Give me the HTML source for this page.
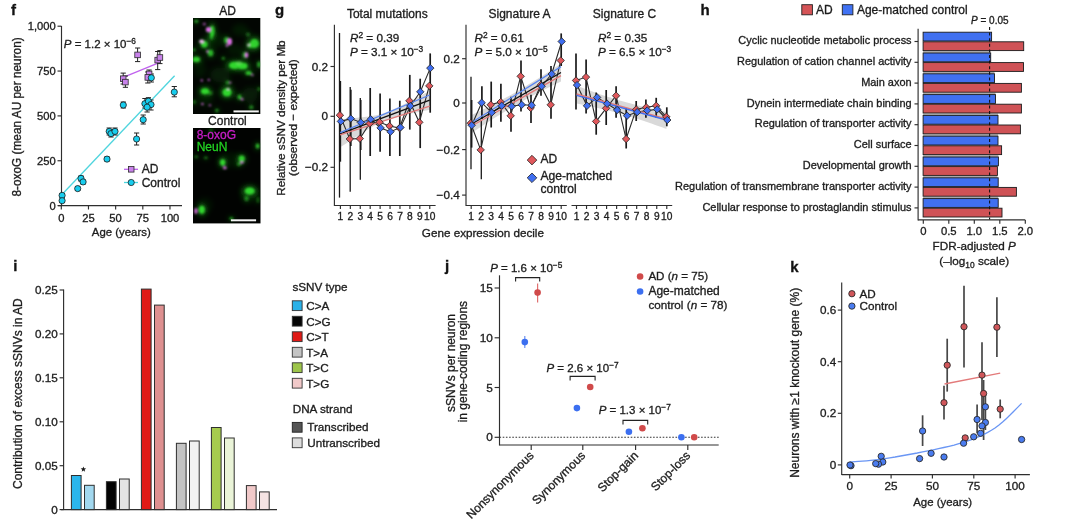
<!DOCTYPE html>
<html><head><meta charset="utf-8"><style>
html,body{margin:0;padding:0;background:#fff;width:1080px;height:521px;overflow:hidden}
svg{display:block;filter:blur(0.4px)}
text{stroke:currentColor;stroke-width:0.32px;paint-order:stroke}
</style></head><body>
<svg width="1080" height="521" viewBox="0 0 1080 521">
<rect width="1080" height="521" fill="#fff"/>
<g font-family='"Liberation Sans", sans-serif' fill="#1c1c1c" color="#1c1c1c">
<text x="11" y="14.6" font-size="15" font-weight="bold" fill="#111" color="#111" >f</text>
<line x1="61.5" y1="26" x2="61.5" y2="206.1" stroke="#2e2e2e" stroke-width="1.15" />
<line x1="58" y1="205.6" x2="182" y2="205.6" stroke="#2e2e2e" stroke-width="1.15" />
<line x1="57.5" y1="26.19999999999999" x2="61.5" y2="26.19999999999999" stroke="#2e2e2e" stroke-width="1.15" />
<text x="55.7" y="30.3" font-size="11.2" text-anchor="end" >1,000</text>
<line x1="57.5" y1="71.04999999999998" x2="61.5" y2="71.04999999999998" stroke="#2e2e2e" stroke-width="1.15" />
<text x="55.7" y="75.1" font-size="11.2" text-anchor="end" >750</text>
<line x1="57.5" y1="115.89999999999999" x2="61.5" y2="115.89999999999999" stroke="#2e2e2e" stroke-width="1.15" />
<text x="55.7" y="120.0" font-size="11.2" text-anchor="end" >500</text>
<line x1="57.5" y1="160.75" x2="61.5" y2="160.75" stroke="#2e2e2e" stroke-width="1.15" />
<text x="55.7" y="164.8" font-size="11.2" text-anchor="end" >250</text>
<line x1="57.5" y1="205.6" x2="61.5" y2="205.6" stroke="#2e2e2e" stroke-width="1.15" />
<text x="55.7" y="209.7" font-size="11.2" text-anchor="end" >0</text>
<line x1="61.3" y1="205.6" x2="61.3" y2="209.5" stroke="#2e2e2e" stroke-width="1.15" />
<text x="61.3" y="222" font-size="11.2" text-anchor="middle" >0</text>
<line x1="88.47" y1="205.6" x2="88.47" y2="209.5" stroke="#2e2e2e" stroke-width="1.15" />
<text x="88.5" y="222" font-size="11.2" text-anchor="middle" >25</text>
<line x1="115.63999999999999" y1="205.6" x2="115.63999999999999" y2="209.5" stroke="#2e2e2e" stroke-width="1.15" />
<text x="115.6" y="222" font-size="11.2" text-anchor="middle" >50</text>
<line x1="142.81" y1="205.6" x2="142.81" y2="209.5" stroke="#2e2e2e" stroke-width="1.15" />
<text x="142.8" y="222" font-size="11.2" text-anchor="middle" >75</text>
<line x1="169.98" y1="205.6" x2="169.98" y2="209.5" stroke="#2e2e2e" stroke-width="1.15" />
<text x="170.0" y="222" font-size="11.2" text-anchor="middle" >100</text>
<text x="121.3" y="235.7" font-size="11.4" text-anchor="middle" >Age (years)</text>
<text x="20.6" y="196.6" font-size="11.85" transform="rotate(-90 20.6 196.6)" >8-oxoG (mean AU per neuron)</text>
<text x="63.8" y="47.8" font-size="11.5"><tspan font-style="italic">P</tspan> = 1.2 × 10<tspan font-size="8.3" dy="-4.2">−6</tspan></text>
<line x1="62" y1="194.5" x2="174.6" y2="75.7" stroke="#4fd5de" stroke-width="1.3" />
<line x1="125" y1="76.6" x2="158" y2="63.2" stroke="#c061ee" stroke-width="1.3" />
<line x1="137.6" y1="48" x2="137.6" y2="61.6" stroke="#222" stroke-width="1" />
<line x1="135.0" y1="48" x2="140.2" y2="48" stroke="#222" stroke-width="1" />
<line x1="135.0" y1="61.6" x2="140.2" y2="61.6" stroke="#222" stroke-width="1" />
<line x1="157.7" y1="51.5" x2="157.7" y2="69.6" stroke="#222" stroke-width="1" />
<line x1="155.1" y1="51.5" x2="160.29999999999998" y2="51.5" stroke="#222" stroke-width="1" />
<line x1="155.1" y1="69.6" x2="160.29999999999998" y2="69.6" stroke="#222" stroke-width="1" />
<line x1="159.9" y1="50.6" x2="159.9" y2="63.6" stroke="#222" stroke-width="1" />
<line x1="157.3" y1="50.6" x2="162.5" y2="50.6" stroke="#222" stroke-width="1" />
<line x1="157.3" y1="63.6" x2="162.5" y2="63.6" stroke="#222" stroke-width="1" />
<line x1="123.2" y1="73.1" x2="123.2" y2="84" stroke="#222" stroke-width="1" />
<line x1="120.60000000000001" y1="73.1" x2="125.8" y2="73.1" stroke="#222" stroke-width="1" />
<line x1="120.60000000000001" y1="84" x2="125.8" y2="84" stroke="#222" stroke-width="1" />
<line x1="125.4" y1="76" x2="125.4" y2="87.3" stroke="#222" stroke-width="1" />
<line x1="122.80000000000001" y1="76" x2="128.0" y2="76" stroke="#222" stroke-width="1" />
<line x1="122.80000000000001" y1="87.3" x2="128.0" y2="87.3" stroke="#222" stroke-width="1" />
<line x1="149.1" y1="70" x2="149.1" y2="80" stroke="#222" stroke-width="1" />
<line x1="146.5" y1="70" x2="151.7" y2="70" stroke="#222" stroke-width="1" />
<line x1="146.5" y1="80" x2="151.7" y2="80" stroke="#222" stroke-width="1" />
<line x1="147.8" y1="72" x2="147.8" y2="83" stroke="#222" stroke-width="1" />
<line x1="145.20000000000002" y1="72" x2="150.4" y2="72" stroke="#222" stroke-width="1" />
<line x1="145.20000000000002" y1="83" x2="150.4" y2="83" stroke="#222" stroke-width="1" />
<line x1="151.3" y1="74" x2="151.3" y2="82" stroke="#222" stroke-width="1" />
<line x1="148.70000000000002" y1="74" x2="153.9" y2="74" stroke="#222" stroke-width="1" />
<line x1="148.70000000000002" y1="82" x2="153.9" y2="82" stroke="#222" stroke-width="1" />
<line x1="174.3" y1="86.5" x2="174.3" y2="96.8" stroke="#222" stroke-width="1" />
<line x1="171.70000000000002" y1="86.5" x2="176.9" y2="86.5" stroke="#222" stroke-width="1" />
<line x1="171.70000000000002" y1="96.8" x2="176.9" y2="96.8" stroke="#222" stroke-width="1" />
<line x1="123.3" y1="102" x2="123.3" y2="108" stroke="#222" stroke-width="1" />
<line x1="120.7" y1="102" x2="125.89999999999999" y2="102" stroke="#222" stroke-width="1" />
<line x1="120.7" y1="108" x2="125.89999999999999" y2="108" stroke="#222" stroke-width="1" />
<line x1="144.9" y1="98.5" x2="144.9" y2="108" stroke="#222" stroke-width="1" />
<line x1="142.3" y1="98.5" x2="147.5" y2="98.5" stroke="#222" stroke-width="1" />
<line x1="142.3" y1="108" x2="147.5" y2="108" stroke="#222" stroke-width="1" />
<line x1="148.4" y1="97.7" x2="148.4" y2="105" stroke="#222" stroke-width="1" />
<line x1="145.8" y1="97.7" x2="151.0" y2="97.7" stroke="#222" stroke-width="1" />
<line x1="145.8" y1="105" x2="151.0" y2="105" stroke="#222" stroke-width="1" />
<line x1="151" y1="100" x2="151" y2="110" stroke="#222" stroke-width="1" />
<line x1="148.4" y1="100" x2="153.6" y2="100" stroke="#222" stroke-width="1" />
<line x1="148.4" y1="110" x2="153.6" y2="110" stroke="#222" stroke-width="1" />
<line x1="147.1" y1="103" x2="147.1" y2="112" stroke="#222" stroke-width="1" />
<line x1="144.5" y1="103" x2="149.7" y2="103" stroke="#222" stroke-width="1" />
<line x1="144.5" y1="112" x2="149.7" y2="112" stroke="#222" stroke-width="1" />
<line x1="143.2" y1="115" x2="143.2" y2="124" stroke="#222" stroke-width="1" />
<line x1="140.6" y1="115" x2="145.79999999999998" y2="115" stroke="#222" stroke-width="1" />
<line x1="140.6" y1="124" x2="145.79999999999998" y2="124" stroke="#222" stroke-width="1" />
<line x1="109.2" y1="128" x2="109.2" y2="135" stroke="#222" stroke-width="1" />
<line x1="106.60000000000001" y1="128" x2="111.8" y2="128" stroke="#222" stroke-width="1" />
<line x1="106.60000000000001" y1="135" x2="111.8" y2="135" stroke="#222" stroke-width="1" />
<line x1="111" y1="130" x2="111" y2="137" stroke="#222" stroke-width="1" />
<line x1="108.4" y1="130" x2="113.6" y2="130" stroke="#222" stroke-width="1" />
<line x1="108.4" y1="137" x2="113.6" y2="137" stroke="#222" stroke-width="1" />
<line x1="115" y1="128" x2="115" y2="135" stroke="#222" stroke-width="1" />
<line x1="112.4" y1="128" x2="117.6" y2="128" stroke="#222" stroke-width="1" />
<line x1="112.4" y1="135" x2="117.6" y2="135" stroke="#222" stroke-width="1" />
<line x1="136.6" y1="133" x2="136.6" y2="145" stroke="#222" stroke-width="1" />
<line x1="134.0" y1="133" x2="139.2" y2="133" stroke="#222" stroke-width="1" />
<line x1="134.0" y1="145" x2="139.2" y2="145" stroke="#222" stroke-width="1" />
<line x1="107" y1="157" x2="107" y2="161" stroke="#222" stroke-width="1" />
<line x1="104.4" y1="157" x2="109.6" y2="157" stroke="#222" stroke-width="1" />
<line x1="104.4" y1="161" x2="109.6" y2="161" stroke="#222" stroke-width="1" />
<line x1="81" y1="176" x2="81" y2="181" stroke="#222" stroke-width="1" />
<line x1="78.4" y1="176" x2="83.6" y2="176" stroke="#222" stroke-width="1" />
<line x1="78.4" y1="181" x2="83.6" y2="181" stroke="#222" stroke-width="1" />
<line x1="83.1" y1="180" x2="83.1" y2="184" stroke="#222" stroke-width="1" />
<line x1="80.5" y1="180" x2="85.69999999999999" y2="180" stroke="#222" stroke-width="1" />
<line x1="80.5" y1="184" x2="85.69999999999999" y2="184" stroke="#222" stroke-width="1" />
<line x1="77.7" y1="186.5" x2="77.7" y2="190.5" stroke="#222" stroke-width="1" />
<line x1="75.10000000000001" y1="186.5" x2="80.3" y2="186.5" stroke="#222" stroke-width="1" />
<line x1="75.10000000000001" y1="190.5" x2="80.3" y2="190.5" stroke="#222" stroke-width="1" />
<line x1="62.1" y1="193.5" x2="62.1" y2="197.5" stroke="#222" stroke-width="1" />
<line x1="59.5" y1="193.5" x2="64.7" y2="193.5" stroke="#222" stroke-width="1" />
<line x1="59.5" y1="197.5" x2="64.7" y2="197.5" stroke="#222" stroke-width="1" />
<line x1="62.1" y1="199" x2="62.1" y2="202.5" stroke="#222" stroke-width="1" />
<line x1="59.5" y1="199" x2="64.7" y2="199" stroke="#222" stroke-width="1" />
<line x1="59.5" y1="202.5" x2="64.7" y2="202.5" stroke="#222" stroke-width="1" />
<rect x="134.8" y="52.1" width="5.6" height="5.6" fill="#c882ea" stroke="#2a2a2a" stroke-width="0.8"/>
<rect x="154.9" y="57.3" width="5.6" height="5.6" fill="#c882ea" stroke="#2a2a2a" stroke-width="0.8"/>
<rect x="157.1" y="54.7" width="5.6" height="5.6" fill="#c882ea" stroke="#2a2a2a" stroke-width="0.8"/>
<rect x="120.4" y="75.9" width="5.6" height="5.6" fill="#c882ea" stroke="#2a2a2a" stroke-width="0.8"/>
<rect x="122.6" y="79.3" width="5.6" height="5.6" fill="#c882ea" stroke="#2a2a2a" stroke-width="0.8"/>
<rect x="146.3" y="71.1" width="5.6" height="5.6" fill="#c882ea" stroke="#2a2a2a" stroke-width="0.8"/>
<rect x="145.0" y="74.6" width="5.6" height="5.6" fill="#c882ea" stroke="#2a2a2a" stroke-width="0.8"/>
<circle cx="151.3" cy="77.8" r="3.1" fill="#18cdee" stroke="#1a1a1a" stroke-width="0.8"/>
<circle cx="174.3" cy="92.1" r="3.1" fill="#18cdee" stroke="#1a1a1a" stroke-width="0.8"/>
<circle cx="123.3" cy="105" r="3.1" fill="#18cdee" stroke="#1a1a1a" stroke-width="0.8"/>
<circle cx="144.9" cy="103.7" r="3.1" fill="#18cdee" stroke="#1a1a1a" stroke-width="0.8"/>
<circle cx="148.4" cy="101.2" r="3.1" fill="#18cdee" stroke="#1a1a1a" stroke-width="0.8"/>
<circle cx="151" cy="104.6" r="3.1" fill="#18cdee" stroke="#1a1a1a" stroke-width="0.8"/>
<circle cx="147.1" cy="107.2" r="3.1" fill="#18cdee" stroke="#1a1a1a" stroke-width="0.8"/>
<circle cx="143.2" cy="119.7" r="3.1" fill="#18cdee" stroke="#1a1a1a" stroke-width="0.8"/>
<circle cx="109.2" cy="131.4" r="3.1" fill="#18cdee" stroke="#1a1a1a" stroke-width="0.8"/>
<circle cx="111" cy="133.6" r="3.1" fill="#18cdee" stroke="#1a1a1a" stroke-width="0.8"/>
<circle cx="115" cy="131.4" r="3.1" fill="#18cdee" stroke="#1a1a1a" stroke-width="0.8"/>
<circle cx="136.6" cy="139" r="3.1" fill="#18cdee" stroke="#1a1a1a" stroke-width="0.8"/>
<circle cx="107" cy="159.1" r="3.1" fill="#18cdee" stroke="#1a1a1a" stroke-width="0.8"/>
<circle cx="81" cy="178.4" r="3.1" fill="#18cdee" stroke="#1a1a1a" stroke-width="0.8"/>
<circle cx="83.1" cy="181.9" r="3.1" fill="#18cdee" stroke="#1a1a1a" stroke-width="0.8"/>
<circle cx="77.7" cy="188.6" r="3.1" fill="#18cdee" stroke="#1a1a1a" stroke-width="0.8"/>
<circle cx="62.1" cy="195.4" r="3.1" fill="#18cdee" stroke="#1a1a1a" stroke-width="0.8"/>
<circle cx="62.1" cy="200.7" r="3.1" fill="#18cdee" stroke="#1a1a1a" stroke-width="0.8"/>
<line x1="124" y1="169.3" x2="138" y2="169.3" stroke="#c061ee" stroke-width="1.3" />
<rect x="128.4" y="166.5" width="5.6" height="5.6" fill="#c882ea" stroke="#2a2a2a" stroke-width="0.8"/>
<text x="141.7" y="173.2" font-size="12" >AD</text>
<line x1="124" y1="182.5" x2="138" y2="182.5" stroke="#4fd5de" stroke-width="1.3" />
<circle cx="131.2" cy="182.5" r="3.1" fill="#18cdee" stroke="#1a1a1a" stroke-width="0.8"/>
<text x="141.7" y="186.8" font-size="12" >Control</text>
<text x="227.6" y="15" font-size="12" text-anchor="middle" >AD</text>
<text x="227.4" y="125" font-size="12" text-anchor="middle" >Control</text>
<defs><filter id="bl" x="-50%" y="-50%" width="200%" height="200%"><feGaussianBlur stdDeviation="1.1"/></filter><filter id="bl3" x="-50%" y="-50%" width="200%" height="200%"><feGaussianBlur stdDeviation="2.4"/></filter><clipPath id="cp1"><rect x="193" y="18" width="67.3" height="96"/></clipPath><clipPath id="cp2"><rect x="193" y="128" width="67.5" height="95.4"/></clipPath></defs>
<rect x="193" y="18" width="67.3" height="96" fill="#020602"/>
<rect x="193" y="128" width="67.5" height="95.4" fill="#010301"/>
<g clip-path="url(#cp1)">
<g filter="url(#bl3)">
<ellipse cx="215" cy="40" rx="10" ry="8" fill="#1f9a1f" opacity="0.12"/>
<ellipse cx="240" cy="30" rx="8" ry="6" fill="#1f9a1f" opacity="0.12"/>
<ellipse cx="220" cy="75" rx="10" ry="8" fill="#1f9a1f" opacity="0.15"/>
<ellipse cx="250" cy="95" rx="8" ry="8" fill="#1f9a1f" opacity="0.15"/>
<ellipse cx="205" cy="100" rx="8" ry="6" fill="#1f9a1f" opacity="0.12"/>
<ellipse cx="235" cy="50" rx="8" ry="6" fill="#1f9a1f" opacity="0.1"/>
<ellipse cx="200" cy="70" rx="6" ry="8" fill="#1f9a1f" opacity="0.1"/>
<ellipse cx="196.3" cy="21.3" rx="3.4" ry="2.7" fill="#1fb01f" opacity="0.27"/>
<ellipse cx="212.2" cy="31" rx="4.1" ry="9.3" fill="#1fb01f" opacity="0.38"/>
<ellipse cx="211.5" cy="36.5" rx="2.7" ry="5.1" fill="#1fb01f" opacity="0.27"/>
<ellipse cx="204.3" cy="44.2" rx="5.4" ry="5.4" fill="#1fb01f" opacity="0.41"/>
<ellipse cx="226.4" cy="40.3" rx="3.4" ry="5.1" fill="#1fb01f" opacity="0.36"/>
<ellipse cx="248" cy="34.5" rx="3.4" ry="3.4" fill="#1fb01f" opacity="0.16"/>
<ellipse cx="254.5" cy="43.5" rx="7.6" ry="7.5" fill="#1fb01f" opacity="0.41"/>
<ellipse cx="250.5" cy="45.5" rx="5.1" ry="4.2" fill="#1fb01f" opacity="0.32"/>
<ellipse cx="245" cy="55" rx="4.1" ry="5.1" fill="#1fb01f" opacity="0.27"/>
<ellipse cx="210.6" cy="53" rx="4.4" ry="5.4" fill="#1fb01f" opacity="0.34"/>
<ellipse cx="196.3" cy="59.4" rx="6.3" ry="4.4" fill="#1fb01f" opacity="0.41"/>
<ellipse cx="194.2" cy="49.8" rx="2.7" ry="2.7" fill="#1fb01f" opacity="0.23"/>
<ellipse cx="223.3" cy="58.3" rx="2.7" ry="2.7" fill="#1fb01f" opacity="0.23"/>
<ellipse cx="234.5" cy="65.4" rx="9.3" ry="6.1" fill="#1fb01f" opacity="0.43"/>
<ellipse cx="242.7" cy="65.9" rx="8.2" ry="5.4" fill="#1fb01f" opacity="0.43"/>
<ellipse cx="259" cy="64.6" rx="3.4" ry="5.1" fill="#1fb01f" opacity="0.27"/>
<ellipse cx="248.6" cy="72.9" rx="5.1" ry="3.4" fill="#1fb01f" opacity="0.36"/>
<ellipse cx="227.6" cy="82.6" rx="3.4" ry="3.4" fill="#1fb01f" opacity="0.23"/>
<ellipse cx="205" cy="91.2" rx="6.8" ry="5.1" fill="#1fb01f" opacity="0.43"/>
<ellipse cx="210" cy="93" rx="4.2" ry="3.4" fill="#1fb01f" opacity="0.18"/>
<ellipse cx="227" cy="92.3" rx="7.6" ry="6.8" fill="#1fb01f" opacity="0.43"/>
<ellipse cx="239.5" cy="97.1" rx="3.4" ry="4.2" fill="#1fb01f" opacity="0.32"/>
<ellipse cx="216.9" cy="110.5" rx="3.1" ry="3.1" fill="#1fb01f" opacity="0.23"/>
<ellipse cx="251.3" cy="107.3" rx="3.4" ry="3.4" fill="#1fb01f" opacity="0.23"/>
<ellipse cx="258.8" cy="89" rx="2.5" ry="3.4" fill="#1fb01f" opacity="0.18"/>
<ellipse cx="194.3" cy="102" rx="2.5" ry="3.4" fill="#1fb01f" opacity="0.18"/>
</g><g filter="url(#bl)">
<ellipse cx="196.3" cy="21.3" rx="2" ry="1.6" fill="#34dc30" opacity="0.6"/>
<ellipse cx="204.3" cy="24" rx="1.6" ry="1.6" fill="#e070e8" opacity="0.6"/>
<ellipse cx="212.2" cy="31" rx="2.4" ry="5.5" fill="#34dc30" opacity="0.85"/>
<ellipse cx="211.5" cy="36.5" rx="1.6" ry="3" fill="#34dc30" opacity="0.6"/>
<ellipse cx="208.5" cy="29.6" rx="2.6" ry="2.6" fill="#e070e8" opacity="1"/>
<ellipse cx="204.3" cy="44.2" rx="3.2" ry="3.2" fill="#34dc30" opacity="0.9"/>
<ellipse cx="201.6" cy="41.4" rx="2.4" ry="1.9" fill="#f0b8f0" opacity="1"/>
<ellipse cx="226.4" cy="40.3" rx="2" ry="3" fill="#34dc30" opacity="0.8"/>
<ellipse cx="229.6" cy="41.6" rx="2.4" ry="3.6" fill="#e070e8" opacity="1"/>
<ellipse cx="227" cy="45.6" rx="1.4" ry="1.4" fill="#e070e8" opacity="0.8"/>
<ellipse cx="248" cy="34.5" rx="2" ry="2" fill="#34dc30" opacity="0.35"/>
<ellipse cx="254.5" cy="43.5" rx="4.5" ry="4.4" fill="#34dc30" opacity="0.9"/>
<ellipse cx="250.5" cy="45.5" rx="3" ry="2.5" fill="#34dc30" opacity="0.7"/>
<ellipse cx="248.6" cy="45" rx="1.6" ry="1.6" fill="#f0c0f0" opacity="0.8"/>
<ellipse cx="245" cy="55" rx="2.4" ry="3" fill="#34dc30" opacity="0.6"/>
<ellipse cx="246.5" cy="55.1" rx="1.8" ry="2.8" fill="#e070e8" opacity="0.95"/>
<ellipse cx="207.4" cy="51.4" rx="1.3" ry="1.3" fill="#e070e8" opacity="0.8"/>
<ellipse cx="210.6" cy="53" rx="2.6" ry="3.2" fill="#34dc30" opacity="0.75"/>
<ellipse cx="196.3" cy="59.4" rx="3.7" ry="2.6" fill="#34dc30" opacity="0.9"/>
<ellipse cx="194.2" cy="49.8" rx="1.6" ry="1.6" fill="#34dc30" opacity="0.5"/>
<ellipse cx="223.3" cy="58.3" rx="1.6" ry="1.6" fill="#34dc30" opacity="0.5"/>
<ellipse cx="234.5" cy="65.4" rx="5.5" ry="3.6" fill="#34dc30" opacity="0.95"/>
<ellipse cx="242.7" cy="65.9" rx="4.8" ry="3.2" fill="#34dc30" opacity="0.95"/>
<ellipse cx="239" cy="63" rx="3" ry="2" fill="#7cf070" opacity="0.5"/>
<ellipse cx="259" cy="64.6" rx="2" ry="3" fill="#34dc30" opacity="0.6"/>
<ellipse cx="248.6" cy="72.9" rx="3" ry="2" fill="#34dc30" opacity="0.8"/>
<ellipse cx="252.4" cy="75" rx="1.2" ry="1.2" fill="#e070e8" opacity="0.7"/>
<ellipse cx="227.6" cy="82.6" rx="2" ry="2" fill="#34dc30" opacity="0.5"/>
<ellipse cx="230.3" cy="82.6" rx="1.2" ry="1.2" fill="#e070e8" opacity="0.7"/>
<ellipse cx="205" cy="91.2" rx="4" ry="3" fill="#34dc30" opacity="0.95"/>
<ellipse cx="201.8" cy="80.4" rx="1.2" ry="1.2" fill="#e070e8" opacity="0.8"/>
<ellipse cx="208.8" cy="79.9" rx="1.2" ry="1.2" fill="#e070e8" opacity="0.7"/>
<ellipse cx="210" cy="93" rx="2.5" ry="2" fill="#34dc30" opacity="0.4"/>
<ellipse cx="227" cy="92.3" rx="4.5" ry="4" fill="#34dc30" opacity="0.95"/>
<ellipse cx="228.2" cy="89" rx="1.6" ry="1.2" fill="#f0d0f0" opacity="0.8"/>
<ellipse cx="239.5" cy="97.1" rx="2" ry="2.5" fill="#34dc30" opacity="0.7"/>
<ellipse cx="242.2" cy="99.2" rx="1.3" ry="1.3" fill="#e070e8" opacity="0.8"/>
<ellipse cx="202.4" cy="104" rx="1.3" ry="1.3" fill="#e070e8" opacity="0.8"/>
<ellipse cx="209.9" cy="105.2" rx="1.3" ry="1.3" fill="#e070e8" opacity="0.6"/>
<ellipse cx="216.9" cy="110.5" rx="1.8" ry="1.8" fill="#34dc30" opacity="0.5"/>
<ellipse cx="251.3" cy="107.3" rx="2" ry="2" fill="#34dc30" opacity="0.5"/>
<ellipse cx="258.8" cy="89" rx="1.5" ry="2" fill="#34dc30" opacity="0.4"/>
<ellipse cx="194.3" cy="102" rx="1.5" ry="2" fill="#34dc30" opacity="0.4"/>
</g></g>
<g clip-path="url(#cp2)">
<g filter="url(#bl3)">
<ellipse cx="230" cy="160" rx="12" ry="8" fill="#1f9a1f" opacity="0.1"/>
<ellipse cx="250" cy="195" rx="10" ry="8" fill="#1f9a1f" opacity="0.1"/>
<ellipse cx="205" cy="205" rx="8" ry="8" fill="#1f9a1f" opacity="0.08"/>
<ellipse cx="211" cy="131" rx="3.4" ry="3.4" fill="#1fb01f" opacity="0.14"/>
<ellipse cx="205.8" cy="157.7" rx="3.4" ry="2.5" fill="#1fb01f" opacity="0.18"/>
<ellipse cx="196.3" cy="156.7" rx="3.4" ry="2.5" fill="#1fb01f" opacity="0.16"/>
<ellipse cx="222.7" cy="162.5" rx="4.4" ry="5.4" fill="#1fb01f" opacity="0.43"/>
<ellipse cx="241.7" cy="158.8" rx="5.1" ry="5.4" fill="#1fb01f" opacity="0.41"/>
<ellipse cx="239" cy="164" rx="3.4" ry="3.4" fill="#1fb01f" opacity="0.23"/>
<ellipse cx="257.6" cy="146.1" rx="3.1" ry="4.2" fill="#1fb01f" opacity="0.36"/>
<ellipse cx="249.7" cy="191" rx="8.5" ry="6.0" fill="#1fb01f" opacity="0.43"/>
<ellipse cx="246.5" cy="198.5" rx="3.4" ry="4.2" fill="#1fb01f" opacity="0.23"/>
<ellipse cx="201.8" cy="209.8" rx="5.1" ry="6.8" fill="#1fb01f" opacity="0.43"/>
<ellipse cx="231.4" cy="218.4" rx="3.4" ry="2.5" fill="#1fb01f" opacity="0.27"/>
<ellipse cx="258" cy="200" rx="2.5" ry="5.1" fill="#1fb01f" opacity="0.14"/>
</g><g filter="url(#bl)">
<ellipse cx="211" cy="131" rx="2" ry="2" fill="#34dc30" opacity="0.3"/>
<ellipse cx="205.8" cy="157.7" rx="2" ry="1.5" fill="#34dc30" opacity="0.4"/>
<ellipse cx="196.3" cy="156.7" rx="2" ry="1.5" fill="#34dc30" opacity="0.35"/>
<ellipse cx="222.7" cy="162.5" rx="2.6" ry="3.2" fill="#34dc30" opacity="0.95"/>
<ellipse cx="224.8" cy="167.8" rx="2" ry="1.5" fill="#e070e8" opacity="0.9"/>
<ellipse cx="241.7" cy="158.8" rx="3" ry="3.2" fill="#34dc30" opacity="0.9"/>
<ellipse cx="241.7" cy="162.5" rx="2" ry="1.2" fill="#e070e8" opacity="0.9"/>
<ellipse cx="239" cy="164" rx="2" ry="2" fill="#34dc30" opacity="0.5"/>
<ellipse cx="257.6" cy="146.1" rx="1.8" ry="2.5" fill="#34dc30" opacity="0.8"/>
<ellipse cx="249.7" cy="191" rx="5" ry="3.5" fill="#34dc30" opacity="0.95"/>
<ellipse cx="246.5" cy="198.5" rx="2" ry="2.5" fill="#34dc30" opacity="0.5"/>
<ellipse cx="201.8" cy="209.8" rx="3" ry="4" fill="#34dc30" opacity="0.95"/>
<ellipse cx="195.9" cy="210.9" rx="1.5" ry="3" fill="#e070e8" opacity="0.95"/>
<ellipse cx="231.4" cy="218.4" rx="2" ry="1.5" fill="#34dc30" opacity="0.6"/>
<ellipse cx="258" cy="200" rx="1.5" ry="3" fill="#34dc30" opacity="0.3"/>
</g></g>
<line x1="233.5" y1="111.4" x2="258.8" y2="111.4" stroke="#f4f4f4" stroke-width="2" />
<line x1="230.9" y1="220.3" x2="256.1" y2="220.3" stroke="#f4f4f4" stroke-width="2" />
<text x="196.7" y="139.3" font-size="12" fill="#c81ec8" color="#c81ec8" >8-oxoG</text>
<text x="196.7" y="150.9" font-size="12" fill="#22d022" color="#22d022" >NeuN</text>
<text x="275" y="14.5" font-size="15" font-weight="bold" fill="#111" color="#111" >g</text>
<text x="285.3" y="118" font-size="11.7" text-anchor="middle" transform="rotate(-90 285.3 118)" >Relative sSNV density per Mb</text>
<text x="297.3" y="117.6" font-size="11.7" text-anchor="middle" transform="rotate(-90 297.3 117.6)" >(observed − expected)</text>
<text x="421.8" y="236.5" font-size="11.7" >Gene expression decile</text>
<text x="387.3" y="18" font-size="12" text-anchor="middle" >Total mutations</text>
<line x1="334.4" y1="24.7" x2="334.4" y2="205.9" stroke="#2e2e2e" stroke-width="1.15" />
<line x1="330.5" y1="66.5" x2="334.4" y2="66.5" stroke="#2e2e2e" stroke-width="1.15" />
<text x="328.09999999999997" y="70.5" font-size="11.7" text-anchor="end" >0.2</text>
<line x1="330.5" y1="116.3" x2="334.4" y2="116.3" stroke="#2e2e2e" stroke-width="1.15" />
<text x="328.09999999999997" y="120.3" font-size="11.7" text-anchor="end" >0</text>
<line x1="330.5" y1="167.3" x2="334.4" y2="167.3" stroke="#2e2e2e" stroke-width="1.15" />
<text x="328.09999999999997" y="171.3" font-size="11.7" text-anchor="end" >−0.2</text>
<line x1="334.4" y1="205.5" x2="435.6" y2="205.5" stroke="#2e2e2e" stroke-width="1.15" />
<line x1="340.4" y1="205.5" x2="340.4" y2="209" stroke="#2e2e2e" stroke-width="1.15" />
<text x="340.4" y="220.3" font-size="10.2" text-anchor="middle" >1</text>
<line x1="350.33" y1="205.5" x2="350.33" y2="209" stroke="#2e2e2e" stroke-width="1.15" />
<text x="350.33" y="220.3" font-size="10.2" text-anchor="middle" >2</text>
<line x1="360.26" y1="205.5" x2="360.26" y2="209" stroke="#2e2e2e" stroke-width="1.15" />
<text x="360.26" y="220.3" font-size="10.2" text-anchor="middle" >3</text>
<line x1="370.19" y1="205.5" x2="370.19" y2="209" stroke="#2e2e2e" stroke-width="1.15" />
<text x="370.19" y="220.3" font-size="10.2" text-anchor="middle" >4</text>
<line x1="380.12" y1="205.5" x2="380.12" y2="209" stroke="#2e2e2e" stroke-width="1.15" />
<text x="380.12" y="220.3" font-size="10.2" text-anchor="middle" >5</text>
<line x1="390.05" y1="205.5" x2="390.05" y2="209" stroke="#2e2e2e" stroke-width="1.15" />
<text x="390.05" y="220.3" font-size="10.2" text-anchor="middle" >6</text>
<line x1="399.98" y1="205.5" x2="399.98" y2="209" stroke="#2e2e2e" stroke-width="1.15" />
<text x="399.98" y="220.3" font-size="10.2" text-anchor="middle" >7</text>
<line x1="409.91" y1="205.5" x2="409.91" y2="209" stroke="#2e2e2e" stroke-width="1.15" />
<text x="409.91" y="220.3" font-size="10.2" text-anchor="middle" >8</text>
<line x1="419.84" y1="205.5" x2="419.84" y2="209" stroke="#2e2e2e" stroke-width="1.15" />
<text x="419.84" y="220.3" font-size="10.2" text-anchor="middle" >9</text>
<line x1="429.77" y1="205.5" x2="429.77" y2="209" stroke="#2e2e2e" stroke-width="1.15" />
<text x="429.77" y="220.3" font-size="10.2" text-anchor="middle" >10</text>
<text x="350" y="42" font-size="11.7"><tspan font-style="italic">R</tspan><tspan font-size="8.4" dy="-4.2">2</tspan><tspan dy="4.2"> = 0.39</tspan></text>
<text x="350" y="56" font-size="11.7"><tspan font-style="italic">P</tspan> = 3.1 × 10<tspan font-size="8.4" dy="-4.2">−3</tspan></text>
<path d="M340.1 119.3 L343.8 119.0 L347.6 118.7 L351.3 118.3 L355.0 118.0 L358.8 117.6 L362.5 117.2 L366.2 116.8 L370.0 116.3 L373.7 115.7 L377.4 114.9 L381.2 114.0 L384.9 112.8 L388.6 111.3 L392.4 109.7 L396.1 108.1 L399.8 106.3 L403.6 104.5 L407.3 102.6 L411.0 100.7 L414.8 98.7 L418.5 96.7 L422.2 94.7 L426.0 92.7 L429.7 90.7 L429.7 109.7 L426.0 110.4 L422.2 111.2 L418.5 111.9 L414.8 112.7 L411.0 113.5 L407.3 114.4 L403.6 115.2 L399.8 116.2 L396.1 117.2 L392.4 118.2 L388.6 119.4 L384.9 120.8 L381.2 122.3 L377.4 124.1 L373.7 126.1 L370.0 128.3 L366.2 130.5 L362.5 132.8 L358.8 135.2 L355.0 137.6 L351.3 140.0 L347.6 142.4 L343.8 144.9 L340.1 147.3 Z" fill="#cfcfcf" opacity="0.8"/>
<line x1="339.5" y1="33" x2="339.5" y2="197.6" stroke="#1a1a1a" stroke-width="1.3" />
<line x1="340.3" y1="81" x2="340.3" y2="161.7" stroke="#1a1a1a" stroke-width="1.7" />
<line x1="350.2" y1="87" x2="350.2" y2="191.8" stroke="#1a1a1a" stroke-width="1.3" />
<line x1="350.8" y1="89.7" x2="350.8" y2="146" stroke="#1a1a1a" stroke-width="1.7" />
<line x1="360.3" y1="98" x2="360.3" y2="179.8" stroke="#1a1a1a" stroke-width="1.3" />
<line x1="360.7" y1="100" x2="360.7" y2="150" stroke="#1a1a1a" stroke-width="1.7" />
<line x1="370.2" y1="88" x2="370.2" y2="156" stroke="#1a1a1a" stroke-width="1.7" />
<line x1="380.1" y1="93.5" x2="380.1" y2="151.7" stroke="#1a1a1a" stroke-width="1.7" />
<line x1="389.9" y1="98.5" x2="389.9" y2="156" stroke="#1a1a1a" stroke-width="1.7" />
<line x1="399.8" y1="100.7" x2="399.8" y2="156" stroke="#1a1a1a" stroke-width="1.7" />
<line x1="409.8" y1="74.9" x2="409.8" y2="129.6" stroke="#1a1a1a" stroke-width="1.7" />
<line x1="420.2" y1="78.7" x2="420.2" y2="148.1" stroke="#1a1a1a" stroke-width="1.7" />
<line x1="430.2" y1="53.4" x2="430.2" y2="112.7" stroke="#1a1a1a" stroke-width="1.7" />
<polyline points="339.9,115.2 349.8,139 359.8,138.6 369.7,123.5 379.6,122.2 389.5,126 399.5,128 409.4,100.8 419.3,122.3 429.3,85.9" fill="none" stroke="#2a2a2a" stroke-width="1.1"/>
<polyline points="340.9,121.4 350.8,118.6 360.8,122.4 370.7,119.3 380.6,127.9 390.5,131.7 400.5,127.4 410.4,106 420.3,91.8 430.3,68.1" fill="none" stroke="#2a2a2a" stroke-width="1.1"/>
<line x1="340.1" y1="133.8" x2="429.7" y2="100.2" stroke="#111" stroke-width="1.35" />
<line x1="340.1" y1="134.8" x2="429.7" y2="106.1" stroke="#e07a7a" stroke-width="1.35" />
<line x1="340.1" y1="132.7" x2="429.7" y2="95" stroke="#5a86f0" stroke-width="1.35" />
<path d="M339.9 111.5L343.59999999999997 115.2L339.9 118.9L336.2 115.2Z" fill="#e0585c" stroke="#222" stroke-width="0.8"/>
<path d="M349.8 135.3L353.5 139L349.8 142.7L346.1 139Z" fill="#e0585c" stroke="#222" stroke-width="0.8"/>
<path d="M359.8 134.9L363.5 138.6L359.8 142.29999999999998L356.1 138.6Z" fill="#e0585c" stroke="#222" stroke-width="0.8"/>
<path d="M369.7 119.8L373.4 123.5L369.7 127.2L366.0 123.5Z" fill="#e0585c" stroke="#222" stroke-width="0.8"/>
<path d="M379.6 118.5L383.3 122.2L379.6 125.9L375.90000000000003 122.2Z" fill="#e0585c" stroke="#222" stroke-width="0.8"/>
<path d="M389.5 122.3L393.2 126L389.5 129.7L385.8 126Z" fill="#e0585c" stroke="#222" stroke-width="0.8"/>
<path d="M399.5 124.3L403.2 128L399.5 131.7L395.8 128Z" fill="#e0585c" stroke="#222" stroke-width="0.8"/>
<path d="M409.4 97.1L413.09999999999997 100.8L409.4 104.5L405.7 100.8Z" fill="#e0585c" stroke="#222" stroke-width="0.8"/>
<path d="M419.3 118.6L423.0 122.3L419.3 126.0L415.6 122.3Z" fill="#e0585c" stroke="#222" stroke-width="0.8"/>
<path d="M429.3 82.2L433.0 85.9L429.3 89.60000000000001L425.6 85.9Z" fill="#e0585c" stroke="#222" stroke-width="0.8"/>
<path d="M340.9 117.7L344.59999999999997 121.4L340.9 125.10000000000001L337.2 121.4Z" fill="#3f6ef0" stroke="#222" stroke-width="0.8"/>
<path d="M350.8 114.89999999999999L354.5 118.6L350.8 122.3L347.1 118.6Z" fill="#3f6ef0" stroke="#222" stroke-width="0.8"/>
<path d="M360.8 118.7L364.5 122.4L360.8 126.10000000000001L357.1 122.4Z" fill="#3f6ef0" stroke="#222" stroke-width="0.8"/>
<path d="M370.7 115.6L374.4 119.3L370.7 123.0L367.0 119.3Z" fill="#3f6ef0" stroke="#222" stroke-width="0.8"/>
<path d="M380.6 124.2L384.3 127.9L380.6 131.6L376.90000000000003 127.9Z" fill="#3f6ef0" stroke="#222" stroke-width="0.8"/>
<path d="M390.5 127.99999999999999L394.2 131.7L390.5 135.39999999999998L386.8 131.7Z" fill="#3f6ef0" stroke="#222" stroke-width="0.8"/>
<path d="M400.5 123.7L404.2 127.4L400.5 131.1L396.8 127.4Z" fill="#3f6ef0" stroke="#222" stroke-width="0.8"/>
<path d="M410.4 102.3L414.09999999999997 106L410.4 109.7L406.7 106Z" fill="#3f6ef0" stroke="#222" stroke-width="0.8"/>
<path d="M420.3 88.1L424.0 91.8L420.3 95.5L416.6 91.8Z" fill="#3f6ef0" stroke="#222" stroke-width="0.8"/>
<path d="M430.3 64.39999999999999L434.0 68.1L430.3 71.8L426.6 68.1Z" fill="#3f6ef0" stroke="#222" stroke-width="0.8"/>
<text x="519.5" y="18" font-size="12" text-anchor="middle" >Signature A</text>
<line x1="466" y1="24.7" x2="466" y2="205.9" stroke="#2e2e2e" stroke-width="1.15" />
<line x1="462.1" y1="58.7" x2="466" y2="58.7" stroke="#2e2e2e" stroke-width="1.15" />
<text x="459.7" y="62.7" font-size="11.7" text-anchor="end" >0.2</text>
<line x1="462.1" y1="103" x2="466" y2="103" stroke="#2e2e2e" stroke-width="1.15" />
<text x="459.7" y="107" font-size="11.7" text-anchor="end" >0</text>
<line x1="462.1" y1="149.6" x2="466" y2="149.6" stroke="#2e2e2e" stroke-width="1.15" />
<text x="459.7" y="153.6" font-size="11.7" text-anchor="end" >−0.2</text>
<line x1="462.1" y1="195.1" x2="466" y2="195.1" stroke="#2e2e2e" stroke-width="1.15" />
<text x="459.7" y="199.1" font-size="11.7" text-anchor="end" >−0.4</text>
<line x1="466" y1="205.5" x2="566.8" y2="205.5" stroke="#2e2e2e" stroke-width="1.15" />
<line x1="471.2" y1="205.5" x2="471.2" y2="209" stroke="#2e2e2e" stroke-width="1.15" />
<text x="471.2" y="220.3" font-size="10.2" text-anchor="middle" >1</text>
<line x1="481.2" y1="205.5" x2="481.2" y2="209" stroke="#2e2e2e" stroke-width="1.15" />
<text x="481.2" y="220.3" font-size="10.2" text-anchor="middle" >2</text>
<line x1="491.2" y1="205.5" x2="491.2" y2="209" stroke="#2e2e2e" stroke-width="1.15" />
<text x="491.2" y="220.3" font-size="10.2" text-anchor="middle" >3</text>
<line x1="501.2" y1="205.5" x2="501.2" y2="209" stroke="#2e2e2e" stroke-width="1.15" />
<text x="501.2" y="220.3" font-size="10.2" text-anchor="middle" >4</text>
<line x1="511.2" y1="205.5" x2="511.2" y2="209" stroke="#2e2e2e" stroke-width="1.15" />
<text x="511.2" y="220.3" font-size="10.2" text-anchor="middle" >5</text>
<line x1="521.2" y1="205.5" x2="521.2" y2="209" stroke="#2e2e2e" stroke-width="1.15" />
<text x="521.2" y="220.3" font-size="10.2" text-anchor="middle" >6</text>
<line x1="531.2" y1="205.5" x2="531.2" y2="209" stroke="#2e2e2e" stroke-width="1.15" />
<text x="531.2" y="220.3" font-size="10.2" text-anchor="middle" >7</text>
<line x1="541.2" y1="205.5" x2="541.2" y2="209" stroke="#2e2e2e" stroke-width="1.15" />
<text x="541.2" y="220.3" font-size="10.2" text-anchor="middle" >8</text>
<line x1="551.2" y1="205.5" x2="551.2" y2="209" stroke="#2e2e2e" stroke-width="1.15" />
<text x="551.2" y="220.3" font-size="10.2" text-anchor="middle" >9</text>
<line x1="561.2" y1="205.5" x2="561.2" y2="209" stroke="#2e2e2e" stroke-width="1.15" />
<text x="561.2" y="220.3" font-size="10.2" text-anchor="middle" >10</text>
<text x="474.5" y="42" font-size="11.7"><tspan font-style="italic">R</tspan><tspan font-size="8.4" dy="-4.2">2</tspan><tspan dy="4.2"> = 0.61</tspan></text>
<text x="474.5" y="56" font-size="11.7"><tspan font-style="italic">P</tspan> = 5.0 × 10<tspan font-size="8.4" dy="-4.2">−5</tspan></text>
<path d="M471.6 115.0 L475.3 113.2 L479.1 111.4 L482.8 109.6 L486.5 107.7 L490.2 105.8 L494.0 103.9 L497.7 102.0 L501.4 100.0 L505.1 98.0 L508.9 96.0 L512.6 93.9 L516.3 91.8 L520.0 89.6 L523.8 87.4 L527.5 85.1 L531.2 82.8 L534.9 80.5 L538.6 78.2 L542.4 75.8 L546.1 73.4 L549.8 70.9 L553.5 68.5 L557.3 66.0 L561.0 63.5 L561.0 81.5 L557.3 83.3 L553.5 85.1 L549.8 86.9 L546.1 88.8 L542.4 90.7 L538.6 92.6 L534.9 94.5 L531.2 96.5 L527.5 98.5 L523.8 100.5 L520.0 102.6 L516.3 104.8 L512.6 106.9 L508.9 109.1 L505.1 111.4 L501.4 113.7 L497.7 116.0 L494.0 118.3 L490.2 120.7 L486.5 123.1 L482.8 125.6 L479.1 128.0 L475.3 130.5 L471.6 133.0 Z" fill="#cfcfcf" opacity="0.8"/>
<line x1="471" y1="76.7" x2="471" y2="169.2" stroke="#1a1a1a" stroke-width="1.3" />
<line x1="471.6" y1="100" x2="471.6" y2="147.6" stroke="#1a1a1a" stroke-width="1.7" />
<line x1="481.3" y1="120" x2="481.3" y2="179.3" stroke="#1a1a1a" stroke-width="1.3" />
<line x1="481.9" y1="86.2" x2="481.9" y2="119" stroke="#1a1a1a" stroke-width="1.7" />
<line x1="491.2" y1="81.6" x2="491.2" y2="127.5" stroke="#1a1a1a" stroke-width="1.7" />
<line x1="500.9" y1="83.7" x2="500.9" y2="121.7" stroke="#1a1a1a" stroke-width="1.7" />
<line x1="511" y1="96.8" x2="511" y2="131.8" stroke="#1a1a1a" stroke-width="1.7" />
<line x1="521" y1="60.5" x2="521" y2="111.6" stroke="#1a1a1a" stroke-width="1.7" />
<line x1="531" y1="94.7" x2="531" y2="123.1" stroke="#1a1a1a" stroke-width="1.7" />
<line x1="541" y1="69.3" x2="541" y2="95.8" stroke="#1a1a1a" stroke-width="1.7" />
<line x1="551" y1="66" x2="551" y2="118.8" stroke="#1a1a1a" stroke-width="1.7" />
<line x1="561.2" y1="33.4" x2="561.2" y2="66" stroke="#1a1a1a" stroke-width="1.7" />
<polyline points="470.7,123.2 480.7,149.9 490.7,104.8 500.7,102 510.7,115.8 520.7,76.3 530.7,108 540.7,85.2 550.7,104.8 560.7,60.5" fill="none" stroke="#2a2a2a" stroke-width="1.1"/>
<polyline points="471.7,125.3 481.7,102.7 491.7,112.6 501.7,105.7 511.7,106.3 521.7,104.8 531.7,105.2 541.7,86.2 551.7,74 561.7,41.5" fill="none" stroke="#2a2a2a" stroke-width="1.1"/>
<line x1="471.6" y1="124" x2="561" y2="72.5" stroke="#111" stroke-width="1.35" />
<line x1="471.6" y1="126" x2="561" y2="75.7" stroke="#e07a7a" stroke-width="1.35" />
<line x1="471.6" y1="122.5" x2="561" y2="66.6" stroke="#5a86f0" stroke-width="1.35" />
<path d="M470.7 119.5L474.4 123.2L470.7 126.9L467.0 123.2Z" fill="#e0585c" stroke="#222" stroke-width="0.8"/>
<path d="M480.7 146.20000000000002L484.4 149.9L480.7 153.6L477.0 149.9Z" fill="#e0585c" stroke="#222" stroke-width="0.8"/>
<path d="M490.7 101.1L494.4 104.8L490.7 108.5L487.0 104.8Z" fill="#e0585c" stroke="#222" stroke-width="0.8"/>
<path d="M500.7 98.3L504.4 102L500.7 105.7L497.0 102Z" fill="#e0585c" stroke="#222" stroke-width="0.8"/>
<path d="M510.7 112.1L514.4 115.8L510.7 119.5L507.0 115.8Z" fill="#e0585c" stroke="#222" stroke-width="0.8"/>
<path d="M520.7 72.6L524.4000000000001 76.3L520.7 80.0L517.0 76.3Z" fill="#e0585c" stroke="#222" stroke-width="0.8"/>
<path d="M530.7 104.3L534.4000000000001 108L530.7 111.7L527.0 108Z" fill="#e0585c" stroke="#222" stroke-width="0.8"/>
<path d="M540.7 81.5L544.4000000000001 85.2L540.7 88.9L537.0 85.2Z" fill="#e0585c" stroke="#222" stroke-width="0.8"/>
<path d="M550.7 101.1L554.4000000000001 104.8L550.7 108.5L547.0 104.8Z" fill="#e0585c" stroke="#222" stroke-width="0.8"/>
<path d="M560.7 56.8L564.4000000000001 60.5L560.7 64.2L557.0 60.5Z" fill="#e0585c" stroke="#222" stroke-width="0.8"/>
<path d="M471.7 121.6L475.4 125.3L471.7 129.0L468.0 125.3Z" fill="#3f6ef0" stroke="#222" stroke-width="0.8"/>
<path d="M481.7 99.0L485.4 102.7L481.7 106.4L478.0 102.7Z" fill="#3f6ef0" stroke="#222" stroke-width="0.8"/>
<path d="M491.7 108.89999999999999L495.4 112.6L491.7 116.3L488.0 112.6Z" fill="#3f6ef0" stroke="#222" stroke-width="0.8"/>
<path d="M501.7 102.0L505.4 105.7L501.7 109.4L498.0 105.7Z" fill="#3f6ef0" stroke="#222" stroke-width="0.8"/>
<path d="M511.7 102.6L515.4 106.3L511.7 110.0L508.0 106.3Z" fill="#3f6ef0" stroke="#222" stroke-width="0.8"/>
<path d="M521.7 101.1L525.4000000000001 104.8L521.7 108.5L518.0 104.8Z" fill="#3f6ef0" stroke="#222" stroke-width="0.8"/>
<path d="M531.7 101.5L535.4000000000001 105.2L531.7 108.9L528.0 105.2Z" fill="#3f6ef0" stroke="#222" stroke-width="0.8"/>
<path d="M541.7 82.5L545.4000000000001 86.2L541.7 89.9L538.0 86.2Z" fill="#3f6ef0" stroke="#222" stroke-width="0.8"/>
<path d="M551.7 70.3L555.4000000000001 74L551.7 77.7L548.0 74Z" fill="#3f6ef0" stroke="#222" stroke-width="0.8"/>
<path d="M561.7 37.8L565.4000000000001 41.5L561.7 45.2L558.0 41.5Z" fill="#3f6ef0" stroke="#222" stroke-width="0.8"/>
<text x="624.5" y="18" font-size="12" text-anchor="middle" >Signature C</text>
<line x1="571.5" y1="205.5" x2="672.2" y2="205.5" stroke="#2e2e2e" stroke-width="1.15" />
<line x1="576.5" y1="205.5" x2="576.5" y2="209" stroke="#2e2e2e" stroke-width="1.15" />
<text x="576.5" y="220.3" font-size="10.2" text-anchor="middle" >1</text>
<line x1="586.53" y1="205.5" x2="586.53" y2="209" stroke="#2e2e2e" stroke-width="1.15" />
<text x="586.53" y="220.3" font-size="10.2" text-anchor="middle" >2</text>
<line x1="596.56" y1="205.5" x2="596.56" y2="209" stroke="#2e2e2e" stroke-width="1.15" />
<text x="596.56" y="220.3" font-size="10.2" text-anchor="middle" >3</text>
<line x1="606.59" y1="205.5" x2="606.59" y2="209" stroke="#2e2e2e" stroke-width="1.15" />
<text x="606.59" y="220.3" font-size="10.2" text-anchor="middle" >4</text>
<line x1="616.62" y1="205.5" x2="616.62" y2="209" stroke="#2e2e2e" stroke-width="1.15" />
<text x="616.62" y="220.3" font-size="10.2" text-anchor="middle" >5</text>
<line x1="626.65" y1="205.5" x2="626.65" y2="209" stroke="#2e2e2e" stroke-width="1.15" />
<text x="626.65" y="220.3" font-size="10.2" text-anchor="middle" >6</text>
<line x1="636.68" y1="205.5" x2="636.68" y2="209" stroke="#2e2e2e" stroke-width="1.15" />
<text x="636.68" y="220.3" font-size="10.2" text-anchor="middle" >7</text>
<line x1="646.71" y1="205.5" x2="646.71" y2="209" stroke="#2e2e2e" stroke-width="1.15" />
<text x="646.71" y="220.3" font-size="10.2" text-anchor="middle" >8</text>
<line x1="656.74" y1="205.5" x2="656.74" y2="209" stroke="#2e2e2e" stroke-width="1.15" />
<text x="656.74" y="220.3" font-size="10.2" text-anchor="middle" >9</text>
<line x1="666.77" y1="205.5" x2="666.77" y2="209" stroke="#2e2e2e" stroke-width="1.15" />
<text x="666.77" y="220.3" font-size="10.2" text-anchor="middle" >10</text>
<text x="598" y="42" font-size="11.7"><tspan font-style="italic">R</tspan><tspan font-size="8.4" dy="-4.2">2</tspan><tspan dy="4.2"> = 0.35</tspan></text>
<text x="598" y="56" font-size="11.7"><tspan font-style="italic">P</tspan> = 6.5 × 10<tspan font-size="8.4" dy="-4.2">−3</tspan></text>
<path d="M576.6 85.6 L580.3 87.0 L584.1 88.4 L587.8 89.8 L591.6 91.2 L595.3 92.6 L599.0 93.9 L602.8 95.2 L606.5 96.4 L610.3 97.6 L614.0 98.8 L617.8 100.0 L621.5 101.0 L625.2 102.1 L629.0 103.1 L632.7 104.1 L636.5 105.1 L640.2 106.1 L644.0 107.0 L647.7 107.9 L651.4 108.7 L655.2 109.6 L658.9 110.4 L662.7 111.2 L666.4 112.0 L666.4 129.0 L662.7 127.6 L658.9 126.3 L655.2 125.0 L651.4 123.6 L647.7 122.3 L644.0 121.1 L640.2 119.8 L636.5 118.6 L632.7 117.4 L629.0 116.3 L625.2 115.1 L621.5 114.0 L617.8 113.0 L614.0 112.0 L610.3 111.0 L606.5 110.1 L602.8 109.2 L599.0 108.3 L595.3 107.4 L591.6 106.6 L587.8 105.8 L584.1 105.1 L580.3 104.3 L576.6 103.6 Z" fill="#cfcfcf" opacity="0.8"/>
<line x1="576" y1="53.4" x2="576" y2="109.4" stroke="#1a1a1a" stroke-width="1.7" />
<line x1="586.1" y1="59.4" x2="586.1" y2="113.6" stroke="#1a1a1a" stroke-width="1.7" />
<line x1="596.2" y1="92.5" x2="596.2" y2="134.7" stroke="#1a1a1a" stroke-width="1.7" />
<line x1="606.2" y1="90" x2="606.2" y2="125" stroke="#1a1a1a" stroke-width="1.7" />
<line x1="616.1" y1="86.2" x2="616.1" y2="117.8" stroke="#1a1a1a" stroke-width="1.7" />
<line x1="626.2" y1="108.3" x2="626.2" y2="148.5" stroke="#1a1a1a" stroke-width="1.7" />
<line x1="636.2" y1="101" x2="636.2" y2="121" stroke="#1a1a1a" stroke-width="1.7" />
<line x1="645.9" y1="99.5" x2="645.9" y2="117.8" stroke="#1a1a1a" stroke-width="1.7" />
<line x1="656.2" y1="97.8" x2="656.2" y2="117.8" stroke="#1a1a1a" stroke-width="1.7" />
<line x1="666.8" y1="107.3" x2="666.8" y2="126.3" stroke="#1a1a1a" stroke-width="1.7" />
<polyline points="576.0,80.5 586.0,77.1 596.1,121.4 606.1,108.3 616.1,95.7 626.1,139 636.2,109.4 646.2,107.3 656.2,105.8 666.3,116.8" fill="none" stroke="#2a2a2a" stroke-width="1.1"/>
<polyline points="577.0,85.1 587.0,105.8 597.1,97.4 607.1,103.7 617.1,110 627.1,115.7 637.2,112.1 647.2,110.5 657.2,109.4 667.3,120" fill="none" stroke="#2a2a2a" stroke-width="1.1"/>
<line x1="576.6" y1="94" x2="666.4" y2="118.9" stroke="#e07a7a" stroke-width="1.35" />
<line x1="576.6" y1="95.3" x2="666.4" y2="120" stroke="#3f6ef0" stroke-width="1.35" />
<path d="M576.0 76.8L579.7 80.5L576.0 84.2L572.3 80.5Z" fill="#e0585c" stroke="#222" stroke-width="0.8"/>
<path d="M586.0 73.39999999999999L589.7 77.1L586.0 80.8L582.3 77.1Z" fill="#e0585c" stroke="#222" stroke-width="0.8"/>
<path d="M596.1 117.7L599.8000000000001 121.4L596.1 125.10000000000001L592.4 121.4Z" fill="#e0585c" stroke="#222" stroke-width="0.8"/>
<path d="M606.1 104.6L609.8000000000001 108.3L606.1 112.0L602.4 108.3Z" fill="#e0585c" stroke="#222" stroke-width="0.8"/>
<path d="M616.1 92.0L619.8000000000001 95.7L616.1 99.4L612.4 95.7Z" fill="#e0585c" stroke="#222" stroke-width="0.8"/>
<path d="M626.1 135.3L629.8000000000001 139L626.1 142.7L622.4 139Z" fill="#e0585c" stroke="#222" stroke-width="0.8"/>
<path d="M636.2 105.7L639.9000000000001 109.4L636.2 113.10000000000001L632.5 109.4Z" fill="#e0585c" stroke="#222" stroke-width="0.8"/>
<path d="M646.2 103.6L649.9000000000001 107.3L646.2 111.0L642.5 107.3Z" fill="#e0585c" stroke="#222" stroke-width="0.8"/>
<path d="M656.2 102.1L659.9000000000001 105.8L656.2 109.5L652.5 105.8Z" fill="#e0585c" stroke="#222" stroke-width="0.8"/>
<path d="M666.3 113.1L670.0 116.8L666.3 120.5L662.5999999999999 116.8Z" fill="#e0585c" stroke="#222" stroke-width="0.8"/>
<path d="M577.0 81.39999999999999L580.7 85.1L577.0 88.8L573.3 85.1Z" fill="#3f6ef0" stroke="#222" stroke-width="0.8"/>
<path d="M587.0 102.1L590.7 105.8L587.0 109.5L583.3 105.8Z" fill="#3f6ef0" stroke="#222" stroke-width="0.8"/>
<path d="M597.1 93.7L600.8000000000001 97.4L597.1 101.10000000000001L593.4 97.4Z" fill="#3f6ef0" stroke="#222" stroke-width="0.8"/>
<path d="M607.1 100.0L610.8000000000001 103.7L607.1 107.4L603.4 103.7Z" fill="#3f6ef0" stroke="#222" stroke-width="0.8"/>
<path d="M617.1 106.3L620.8000000000001 110L617.1 113.7L613.4 110Z" fill="#3f6ef0" stroke="#222" stroke-width="0.8"/>
<path d="M627.1 112.0L630.8000000000001 115.7L627.1 119.4L623.4 115.7Z" fill="#3f6ef0" stroke="#222" stroke-width="0.8"/>
<path d="M637.2 108.39999999999999L640.9000000000001 112.1L637.2 115.8L633.5 112.1Z" fill="#3f6ef0" stroke="#222" stroke-width="0.8"/>
<path d="M647.2 106.8L650.9000000000001 110.5L647.2 114.2L643.5 110.5Z" fill="#3f6ef0" stroke="#222" stroke-width="0.8"/>
<path d="M657.2 105.7L660.9000000000001 109.4L657.2 113.10000000000001L653.5 109.4Z" fill="#3f6ef0" stroke="#222" stroke-width="0.8"/>
<path d="M667.3 116.3L671.0 120L667.3 123.7L663.5999999999999 120Z" fill="#3f6ef0" stroke="#222" stroke-width="0.8"/>
<path d="M532 155.29999999999998L536.8 160.1L532 164.9L527.2 160.1Z" fill="#e0585c" stroke="#222" stroke-width="0.8"/>
<text x="540.4" y="163.3" font-size="12" >AD</text>
<path d="M532 173.0L536.8 177.8L532 182.60000000000002L527.2 177.8Z" fill="#3f6ef0" stroke="#222" stroke-width="0.8"/>
<text x="540.4" y="179.9" font-size="12.1" >Age-matched</text>
<text x="540.4" y="193" font-size="12.1" >control</text>
<text x="700.5" y="15" font-size="15" font-weight="bold" fill="#111" color="#111" >h</text>
<rect x="801.8" y="4.7" width="10.6" height="10.1" fill="#d55457" stroke="#222" stroke-width="0.9"/>
<text x="816" y="13.8" font-size="12" >AD</text>
<rect x="842.3" y="4.7" width="10.6" height="10.1" fill="#4072f4" stroke="#222" stroke-width="0.9"/>
<text x="856.9" y="13.8" font-size="12" >Age-matched control</text>
<text x="971" y="24" font-size="10"><tspan font-style="italic">P</tspan> = 0.05</text>
<rect x="923.1" y="51.1" width="67.6" height="1.8" fill="#a9a9a9"/>
<rect x="923.1" y="71.9" width="71.4" height="1.8" fill="#a9a9a9"/>
<rect x="923.1" y="92.7" width="72.4" height="1.8" fill="#a9a9a9"/>
<rect x="923.1" y="113.5" width="74.9" height="1.8" fill="#a9a9a9"/>
<rect x="923.1" y="134.3" width="74.9" height="1.8" fill="#a9a9a9"/>
<rect x="923.1" y="155.1" width="75.3" height="1.8" fill="#a9a9a9"/>
<rect x="923.1" y="175.9" width="74.3" height="1.8" fill="#a9a9a9"/>
<rect x="923.1" y="196.7" width="75.1" height="1.8" fill="#a9a9a9"/>
<rect x="923.1" y="32.2" width="68.5" height="8.8" fill="#4070f0" stroke="#1a1a1a" stroke-width="0.9"/>
<rect x="923.1" y="41.8" width="100.6" height="8.8" fill="#cf5256" stroke="#1a1a1a" stroke-width="0.9"/>
<line x1="914.5" y1="41.5" x2="918.1" y2="41.5" stroke="#2e2e2e" stroke-width="1.15" />
<text x="911.6" y="44.1" font-size="10.95" text-anchor="end" >Cyclic nucleotide metabolic process</text>
<rect x="923.1" y="53.0" width="67.6" height="8.8" fill="#4070f0" stroke="#1a1a1a" stroke-width="0.9"/>
<rect x="923.1" y="62.6" width="100.4" height="8.8" fill="#cf5256" stroke="#1a1a1a" stroke-width="0.9"/>
<line x1="914.5" y1="62.3" x2="918.1" y2="62.3" stroke="#2e2e2e" stroke-width="1.15" />
<text x="911.6" y="64.9" font-size="10.95" text-anchor="end" >Regulation of cation channel activity</text>
<rect x="923.1" y="73.8" width="71.4" height="8.8" fill="#4070f0" stroke="#1a1a1a" stroke-width="0.9"/>
<rect x="923.1" y="83.4" width="98.3" height="8.8" fill="#cf5256" stroke="#1a1a1a" stroke-width="0.9"/>
<line x1="914.5" y1="83.1" x2="918.1" y2="83.1" stroke="#2e2e2e" stroke-width="1.15" />
<text x="911.6" y="85.7" font-size="10.95" text-anchor="end" >Main axon</text>
<rect x="923.1" y="94.6" width="72.4" height="8.8" fill="#4070f0" stroke="#1a1a1a" stroke-width="0.9"/>
<rect x="923.1" y="104.2" width="98.3" height="8.8" fill="#cf5256" stroke="#1a1a1a" stroke-width="0.9"/>
<line x1="914.5" y1="103.9" x2="918.1" y2="103.9" stroke="#2e2e2e" stroke-width="1.15" />
<text x="911.6" y="106.5" font-size="10.95" text-anchor="end" >Dynein intermediate chain binding</text>
<rect x="923.1" y="115.4" width="74.9" height="8.8" fill="#4070f0" stroke="#1a1a1a" stroke-width="0.9"/>
<rect x="923.1" y="125.0" width="97.3" height="8.8" fill="#cf5256" stroke="#1a1a1a" stroke-width="0.9"/>
<line x1="914.5" y1="124.7" x2="918.1" y2="124.7" stroke="#2e2e2e" stroke-width="1.15" />
<text x="911.6" y="127.3" font-size="10.95" text-anchor="end" >Regulation of transporter activity</text>
<rect x="923.1" y="136.2" width="74.9" height="8.8" fill="#4070f0" stroke="#1a1a1a" stroke-width="0.9"/>
<rect x="923.1" y="145.8" width="78.5" height="8.8" fill="#cf5256" stroke="#1a1a1a" stroke-width="0.9"/>
<line x1="914.5" y1="145.5" x2="918.1" y2="145.5" stroke="#2e2e2e" stroke-width="1.15" />
<text x="911.6" y="148.1" font-size="10.95" text-anchor="end" >Cell surface</text>
<rect x="923.1" y="157.0" width="75.3" height="8.8" fill="#4070f0" stroke="#1a1a1a" stroke-width="0.9"/>
<rect x="923.1" y="166.6" width="74.3" height="8.8" fill="#cf5256" stroke="#1a1a1a" stroke-width="0.9"/>
<line x1="914.5" y1="166.3" x2="918.1" y2="166.3" stroke="#2e2e2e" stroke-width="1.15" />
<text x="911.6" y="168.9" font-size="10.95" text-anchor="end" >Developmental growth</text>
<rect x="923.1" y="177.8" width="75.1" height="8.8" fill="#4070f0" stroke="#1a1a1a" stroke-width="0.9"/>
<rect x="923.1" y="187.4" width="93.3" height="8.8" fill="#cf5256" stroke="#1a1a1a" stroke-width="0.9"/>
<line x1="914.5" y1="187.1" x2="918.1" y2="187.1" stroke="#2e2e2e" stroke-width="1.15" />
<text x="911.6" y="189.7" font-size="10.95" text-anchor="end" >Regulation of transmembrane transporter activity</text>
<rect x="923.1" y="198.6" width="75.1" height="8.8" fill="#4070f0" stroke="#1a1a1a" stroke-width="0.9"/>
<rect x="923.1" y="208.2" width="78.9" height="8.8" fill="#cf5256" stroke="#1a1a1a" stroke-width="0.9"/>
<line x1="914.5" y1="207.9" x2="918.1" y2="207.9" stroke="#2e2e2e" stroke-width="1.15" />
<text x="911.6" y="210.5" font-size="10.95" text-anchor="end" >Cellular response to prostaglandin stimulus</text>
<line x1="918.1" y1="28.8" x2="918.1" y2="220.4" stroke="#2e2e2e" stroke-width="1.15" />
<line x1="918.1" y1="219.9" x2="1025.3" y2="219.9" stroke="#2e2e2e" stroke-width="1.15" />
<line x1="923.3" y1="219.9" x2="923.3" y2="223.8" stroke="#2e2e2e" stroke-width="1.15" />
<text x="923.3" y="235.1" font-size="11.3" text-anchor="middle" >0</text>
<line x1="948.8" y1="219.9" x2="948.8" y2="223.8" stroke="#2e2e2e" stroke-width="1.15" />
<text x="948.8" y="235.1" font-size="11.3" text-anchor="middle" >0.5</text>
<line x1="974.3" y1="219.9" x2="974.3" y2="223.8" stroke="#2e2e2e" stroke-width="1.15" />
<text x="974.3" y="235.1" font-size="11.3" text-anchor="middle" >1.0</text>
<line x1="999.8" y1="219.9" x2="999.8" y2="223.8" stroke="#2e2e2e" stroke-width="1.15" />
<text x="999.8" y="235.1" font-size="11.3" text-anchor="middle" >1.5</text>
<line x1="1025.3" y1="219.9" x2="1025.3" y2="223.8" stroke="#2e2e2e" stroke-width="1.15" />
<text x="1025.3" y="235.1" font-size="11.3" text-anchor="middle" >2.0</text>
<line x1="989.6" y1="27" x2="989.6" y2="219.5" stroke="#111" stroke-width="1.1" stroke-dasharray="3 2.6"/>
<text x="974.2" y="249.7" font-size="11.7" text-anchor="middle">FDR-adjusted <tspan font-style="italic">P</tspan></text>
<text x="974.2" y="265" font-size="11.7" text-anchor="middle">(–log<tspan font-size="8.4" dy="3">10</tspan><tspan dy="-3"> scale)</tspan></text>
<text x="13.3" y="271" font-size="15" font-weight="bold" fill="#111" color="#111" >i</text>
<text x="22" y="393.6" font-size="12" text-anchor="middle" transform="rotate(-90 22 393.6)" >Contribution of excess sSNVs in AD</text>
<line x1="63.6" y1="289.5" x2="63.6" y2="510.1" stroke="#2e2e2e" stroke-width="1.15" />
<line x1="61" y1="509.6" x2="277" y2="509.6" stroke="#2e2e2e" stroke-width="1.15" />
<line x1="59.6" y1="290.0" x2="63.6" y2="290.0" stroke="#2e2e2e" stroke-width="1.15" />
<text x="57.8" y="294.1" font-size="11.7" text-anchor="end" >0.25</text>
<line x1="59.6" y1="333.9" x2="63.6" y2="333.9" stroke="#2e2e2e" stroke-width="1.15" />
<text x="57.8" y="338.0" font-size="11.7" text-anchor="end" >0.20</text>
<line x1="59.6" y1="377.8" x2="63.6" y2="377.8" stroke="#2e2e2e" stroke-width="1.15" />
<text x="57.8" y="381.9" font-size="11.7" text-anchor="end" >0.15</text>
<line x1="59.6" y1="421.8" x2="63.6" y2="421.8" stroke="#2e2e2e" stroke-width="1.15" />
<text x="57.8" y="425.9" font-size="11.7" text-anchor="end" >0.10</text>
<line x1="59.6" y1="465.7" x2="63.6" y2="465.7" stroke="#2e2e2e" stroke-width="1.15" />
<text x="57.8" y="469.8" font-size="11.7" text-anchor="end" >0.05</text>
<line x1="59.6" y1="509.6" x2="63.6" y2="509.6" stroke="#2e2e2e" stroke-width="1.15" />
<text x="57.8" y="513.7" font-size="11.7" text-anchor="end" >0</text>
<rect x="71.4" y="475.5" width="9.7" height="34.1" fill="#2bb6ec" stroke="#2e2e2e" stroke-width="1"/>
<rect x="84.5" y="485.3" width="9.7" height="24.3" fill="#a2d8ef" stroke="#2e2e2e" stroke-width="1"/>
<rect x="106.4" y="481.7" width="9.7" height="27.9" fill="#030303" stroke="#2e2e2e" stroke-width="1"/>
<rect x="119.5" y="479" width="9.7" height="30.6" fill="#e4e4e4" stroke="#2e2e2e" stroke-width="1"/>
<rect x="141.4" y="289.1" width="9.7" height="220.5" fill="#e01a16" stroke="#2e2e2e" stroke-width="1"/>
<rect x="154.5" y="305.1" width="9.7" height="204.5" fill="#de9090" stroke="#2e2e2e" stroke-width="1"/>
<rect x="176.4" y="443.3" width="9.7" height="66.3" fill="#c4c4c4" stroke="#2e2e2e" stroke-width="1"/>
<rect x="189.5" y="441" width="9.7" height="68.6" fill="#f2f2f2" stroke="#2e2e2e" stroke-width="1"/>
<rect x="211.4" y="427.5" width="9.7" height="82.1" fill="#a6cb4e" stroke="#2e2e2e" stroke-width="1"/>
<rect x="224.5" y="438" width="9.7" height="71.6" fill="#eaf4d8" stroke="#2e2e2e" stroke-width="1"/>
<rect x="246.4" y="485.6" width="9.7" height="24.0" fill="#f1c9c9" stroke="#2e2e2e" stroke-width="1"/>
<rect x="259.5" y="491.9" width="9.7" height="17.7" fill="#f4e2e2" stroke="#2e2e2e" stroke-width="1"/>
<polygon points="83.40,466.40 84.13,468.29 86.16,468.40 84.59,469.69 85.10,471.65 83.40,470.55 81.70,471.65 82.21,469.69 80.64,468.40 82.67,468.29" fill="#1a1a1a"/>
<text x="292.4" y="290.9" font-size="11.7" >sSNV type</text>
<rect x="292.3" y="300.8" width="9.8" height="9.8" fill="#29b1e8" stroke="#333" stroke-width="0.9"/>
<text x="306.2" y="310.0" font-size="11.7" >C&gt;A</text>
<rect x="292.3" y="316.3" width="9.8" height="9.8" fill="#050505" stroke="#333" stroke-width="0.9"/>
<text x="306.2" y="325.5" font-size="11.7" >C&gt;G</text>
<rect x="292.3" y="331.8" width="9.8" height="9.8" fill="#e01a16" stroke="#333" stroke-width="0.9"/>
<text x="306.2" y="341.0" font-size="11.7" >C&gt;T</text>
<rect x="292.3" y="347.3" width="9.8" height="9.8" fill="#c4c4c4" stroke="#333" stroke-width="0.9"/>
<text x="306.2" y="356.5" font-size="11.7" >T&gt;A</text>
<rect x="292.3" y="362.8" width="9.8" height="9.8" fill="#9dc54a" stroke="#333" stroke-width="0.9"/>
<text x="306.2" y="372.0" font-size="11.7" >T&gt;C</text>
<rect x="292.3" y="378.3" width="9.8" height="9.8" fill="#f1c9c9" stroke="#333" stroke-width="0.9"/>
<text x="306.2" y="387.5" font-size="11.7" >T&gt;G</text>
<text x="292.7" y="412.5" font-size="11.7" >DNA strand</text>
<rect x="292.3" y="422.4" width="9.8" height="9.8" fill="#555555" stroke="#222" stroke-width="0.9"/>
<text x="307.2" y="431.3" font-size="11.7" >Transcribed</text>
<rect x="292.3" y="437.9" width="9.8" height="9.8" fill="#dddddd" stroke="#333" stroke-width="0.9"/>
<text x="307.2" y="446.9" font-size="11.7" >Untranscribed</text>
<text x="445" y="271" font-size="15" font-weight="bold" fill="#111" color="#111" >j</text>
<text x="454.5" y="363" font-size="12" text-anchor="middle" transform="rotate(-90 454.5 363)" >sSNVs per neuron</text>
<text x="466.6" y="361.6" font-size="12" text-anchor="middle" transform="rotate(-90 466.6 361.6)" >in gene-coding regions</text>
<line x1="499.5" y1="275.3" x2="499.5" y2="445.5" stroke="#2e2e2e" stroke-width="1.15" />
<line x1="499.5" y1="445" x2="718.7" y2="445" stroke="#2e2e2e" stroke-width="1.15" />
<line x1="494.6" y1="288.0" x2="499.5" y2="288.0" stroke="#2e2e2e" stroke-width="1.15" />
<text x="492.9" y="292.1" font-size="11.8" text-anchor="end" >15</text>
<line x1="494.6" y1="337.8" x2="499.5" y2="337.8" stroke="#2e2e2e" stroke-width="1.15" />
<text x="492.9" y="341.9" font-size="11.8" text-anchor="end" >10</text>
<line x1="494.6" y1="387.5" x2="499.5" y2="387.5" stroke="#2e2e2e" stroke-width="1.15" />
<text x="492.9" y="391.6" font-size="11.8" text-anchor="end" >5</text>
<line x1="494.6" y1="437.3" x2="499.5" y2="437.3" stroke="#2e2e2e" stroke-width="1.15" />
<text x="492.9" y="441.4" font-size="11.8" text-anchor="end" >0</text>
<line x1="499.5" y1="437.3" x2="718.7" y2="437.3" stroke="#333" stroke-width="1.1" stroke-dasharray="1.6 1.6"/>
<line x1="531.2" y1="445" x2="531.2" y2="450" stroke="#2e2e2e" stroke-width="1.15" />
<text x="534.5" y="456.3" font-size="12" text-anchor="end" transform="rotate(-45 534.5 456.3)" >Nonsynonymous</text>
<line x1="582.8" y1="445" x2="582.8" y2="450" stroke="#2e2e2e" stroke-width="1.15" />
<text x="586.1" y="456.3" font-size="12" text-anchor="end" transform="rotate(-45 586.1 456.3)" >Synonymous</text>
<line x1="635.6" y1="445" x2="635.6" y2="450" stroke="#2e2e2e" stroke-width="1.15" />
<text x="638.9" y="456.3" font-size="12" text-anchor="end" transform="rotate(-45 638.9 456.3)" >Stop-gain</text>
<line x1="687.8" y1="445" x2="687.8" y2="450" stroke="#2e2e2e" stroke-width="1.15" />
<text x="691.1" y="456.3" font-size="12" text-anchor="end" transform="rotate(-45 691.1 456.3)" >Stop-loss</text>
<line x1="537.6" y1="283.4" x2="537.6" y2="302.5" stroke="#e07070" stroke-width="1.2" />
<line x1="524.8" y1="336" x2="524.8" y2="348" stroke="#6a90f0" stroke-width="1.2" />
<circle cx="524.8" cy="342.1" r="3.3" fill="#3c6ff0"/>
<circle cx="576.9" cy="408.1" r="3.3" fill="#3c6ff0"/>
<circle cx="628.9" cy="431.8" r="3.3" fill="#3c6ff0"/>
<circle cx="681.4" cy="437.3" r="3.3" fill="#3c6ff0"/>
<circle cx="537.6" cy="292.6" r="3.3" fill="#d04a4a"/>
<circle cx="590.2" cy="387" r="3.3" fill="#d04a4a"/>
<circle cx="642.4" cy="428.2" r="3.3" fill="#d04a4a"/>
<circle cx="694.2" cy="437.3" r="3.3" fill="#d04a4a"/>
<path d="M515.6 281.5V277.6H539.7V281.5" fill="none" stroke="#222" stroke-width="1.1"/>
<path d="M570.1 380.6V376.4H595.1V380.6" fill="none" stroke="#222" stroke-width="1.1"/>
<path d="M623 424.4V420.4H647.7V424.4" fill="none" stroke="#222" stroke-width="1.1"/>
<text x="490.2" y="272.3" font-size="11.5"><tspan font-style="italic">P</tspan> = 1.6 × 10<tspan font-size="8.3" dy="-4.2">−5</tspan></text>
<text x="546.5" y="371.8" font-size="11.5"><tspan font-style="italic">P</tspan> = 2.6 × 10<tspan font-size="8.3" dy="-4.2">−7</tspan></text>
<text x="598.7" y="414.4" font-size="11.5"><tspan font-style="italic">P</tspan> = 1.3 × 10<tspan font-size="8.3" dy="-4.2">−7</tspan></text>
<circle cx="640.1" cy="276.5" r="3.3" fill="#d04a4a"/>
<circle cx="640.1" cy="291.5" r="3.3" fill="#3c6ff0"/>
<text x="648.4" y="280.2" font-size="11.6">AD (<tspan font-style="italic">n</tspan> = 75)</text>
<text x="648.4" y="295.1" font-size="12" >Age-matched</text>
<text x="648.4" y="309" font-size="11.7">control (<tspan font-style="italic">n</tspan> = 78)</text>
<text x="790.2" y="271.6" font-size="15" font-weight="bold" fill="#111" color="#111" >k</text>
<text x="799.3" y="382.8" font-size="12" text-anchor="middle" transform="rotate(-90 799.3 382.8)" >Neurons with ≥1 knockout gene (%)</text>
<line x1="841.7" y1="282.6" x2="841.7" y2="475.1" stroke="#2e2e2e" stroke-width="1.15" />
<line x1="841.7" y1="474.6" x2="1029.9" y2="474.6" stroke="#2e2e2e" stroke-width="1.15" />
<line x1="837.8" y1="310.1" x2="841.7" y2="310.1" stroke="#2e2e2e" stroke-width="1.15" />
<text x="836.3" y="314.2" font-size="11.7" text-anchor="end" >0.6</text>
<line x1="837.8" y1="361.7" x2="841.7" y2="361.7" stroke="#2e2e2e" stroke-width="1.15" />
<text x="836.3" y="365.8" font-size="11.7" text-anchor="end" >0.4</text>
<line x1="837.8" y1="413.3" x2="841.7" y2="413.3" stroke="#2e2e2e" stroke-width="1.15" />
<text x="836.3" y="417.4" font-size="11.7" text-anchor="end" >0.2</text>
<line x1="837.8" y1="464.9" x2="841.7" y2="464.9" stroke="#2e2e2e" stroke-width="1.15" />
<text x="836.3" y="469.0" font-size="11.7" text-anchor="end" >0</text>
<line x1="849.7" y1="474.6" x2="849.7" y2="478.5" stroke="#2e2e2e" stroke-width="1.15" />
<text x="849.7" y="489.5" font-size="11.7" text-anchor="middle" >0</text>
<line x1="891.1" y1="474.6" x2="891.1" y2="478.5" stroke="#2e2e2e" stroke-width="1.15" />
<text x="891.1" y="489.5" font-size="11.7" text-anchor="middle" >25</text>
<line x1="932.4" y1="474.6" x2="932.4" y2="478.5" stroke="#2e2e2e" stroke-width="1.15" />
<text x="932.4" y="489.5" font-size="11.7" text-anchor="middle" >50</text>
<line x1="973.8" y1="474.6" x2="973.8" y2="478.5" stroke="#2e2e2e" stroke-width="1.15" />
<text x="973.8" y="489.5" font-size="11.7" text-anchor="middle" >75</text>
<line x1="1015.1" y1="474.6" x2="1015.1" y2="478.5" stroke="#2e2e2e" stroke-width="1.15" />
<text x="1015.1" y="489.5" font-size="11.7" text-anchor="middle" >100</text>
<text x="942.7" y="506.2" font-size="11.4" text-anchor="middle" >Age (years)</text>
<line x1="964" y1="285.8" x2="964" y2="367.5" stroke="#474747" stroke-width="1.7" />
<line x1="996.9" y1="297.3" x2="996.9" y2="357.1" stroke="#474747" stroke-width="1.7" />
<line x1="947.2" y1="338.7" x2="947.2" y2="391.6" stroke="#474747" stroke-width="1.7" />
<line x1="982" y1="342.2" x2="982" y2="420" stroke="#474747" stroke-width="1.7" />
<line x1="944" y1="385.7" x2="944" y2="419.5" stroke="#474747" stroke-width="1.7" />
<line x1="1000.2" y1="399.5" x2="1000.2" y2="418.3" stroke="#474747" stroke-width="1.7" />
<line x1="977.1" y1="404.5" x2="977.1" y2="433.3" stroke="#474747" stroke-width="1.7" />
<line x1="922.6" y1="415.3" x2="922.6" y2="446" stroke="#474747" stroke-width="1.7" />
<line x1="983.6" y1="380" x2="983.6" y2="440" stroke="#474747" stroke-width="1.7" />
<line x1="985.4" y1="395" x2="985.4" y2="430" stroke="#474747" stroke-width="1.7" />
<polyline points="850.0,462.0 852.2,461.8 855.1,461.6 858.5,461.4 862.3,461.1 866.5,460.8 870.9,460.4 875.4,459.9 880.0,459.3 884.7,458.6 889.8,457.8 895.1,457.0 900.6,456.0 906.2,455.0 911.8,454.0 917.3,453.0 922.6,451.9 927.9,450.8 933.2,449.8 938.5,448.7 943.8,447.5 949.0,446.3 954.1,445.1 958.9,443.7 963.6,442.3 968.0,440.8 972.2,439.3 976.3,437.7 980.2,436.1 984.0,434.3 987.7,432.4 991.4,430.3 995.0,428.0 998.7,425.2 1002.6,422.0 1006.5,418.4 1010.3,414.8 1013.8,411.3 1016.9,408.1 1019.6,405.4 1021.6,403.4" fill="none" stroke="#6a96f4" stroke-width="1.3"/>
<line x1="944.5" y1="384" x2="1000.2" y2="373.2" stroke="#e37a7a" stroke-width="1.3" />
<circle cx="964" cy="326.7" r="3.15" fill="#d0565a" stroke="#2a2a2a" stroke-width="0.9"/>
<circle cx="996.9" cy="327.2" r="3.15" fill="#d0565a" stroke="#2a2a2a" stroke-width="0.9"/>
<circle cx="947.2" cy="365.2" r="3.15" fill="#d0565a" stroke="#2a2a2a" stroke-width="0.9"/>
<circle cx="982" cy="375.1" r="3.15" fill="#d0565a" stroke="#2a2a2a" stroke-width="0.9"/>
<circle cx="983.6" cy="393.5" r="3.15" fill="#d0565a" stroke="#2a2a2a" stroke-width="0.9"/>
<circle cx="944" cy="402.7" r="3.15" fill="#d0565a" stroke="#2a2a2a" stroke-width="0.9"/>
<circle cx="1000.2" cy="409.1" r="3.15" fill="#d0565a" stroke="#2a2a2a" stroke-width="0.9"/>
<circle cx="965.2" cy="437.9" r="3.15" fill="#d0565a" stroke="#2a2a2a" stroke-width="0.9"/>
<circle cx="985.4" cy="406.8" r="3.15" fill="#4a7cf0" stroke="#2a2a2a" stroke-width="0.9"/>
<circle cx="977.1" cy="419.5" r="3.15" fill="#4a7cf0" stroke="#2a2a2a" stroke-width="0.9"/>
<circle cx="985.4" cy="422.5" r="3.15" fill="#4a7cf0" stroke="#2a2a2a" stroke-width="0.9"/>
<circle cx="982" cy="425.9" r="3.15" fill="#4a7cf0" stroke="#2a2a2a" stroke-width="0.9"/>
<circle cx="980.6" cy="433.3" r="3.15" fill="#4a7cf0" stroke="#2a2a2a" stroke-width="0.9"/>
<circle cx="973.7" cy="436.8" r="3.15" fill="#4a7cf0" stroke="#2a2a2a" stroke-width="0.9"/>
<circle cx="963.6" cy="443.2" r="3.15" fill="#4a7cf0" stroke="#2a2a2a" stroke-width="0.9"/>
<circle cx="922.6" cy="431" r="3.15" fill="#4a7cf0" stroke="#2a2a2a" stroke-width="0.9"/>
<circle cx="931.1" cy="453.3" r="3.15" fill="#4a7cf0" stroke="#2a2a2a" stroke-width="0.9"/>
<circle cx="919.6" cy="458.6" r="3.15" fill="#4a7cf0" stroke="#2a2a2a" stroke-width="0.9"/>
<circle cx="944" cy="457" r="3.15" fill="#4a7cf0" stroke="#2a2a2a" stroke-width="0.9"/>
<circle cx="1021.6" cy="439.5" r="3.15" fill="#4a7cf0" stroke="#2a2a2a" stroke-width="0.9"/>
<circle cx="881.2" cy="456.3" r="3.15" fill="#4a7cf0" stroke="#2a2a2a" stroke-width="0.9"/>
<circle cx="882.8" cy="462" r="3.15" fill="#4a7cf0" stroke="#2a2a2a" stroke-width="0.9"/>
<circle cx="878.5" cy="464.2" r="3.15" fill="#4a7cf0" stroke="#2a2a2a" stroke-width="0.9"/>
<circle cx="875.7" cy="463.6" r="3.15" fill="#4a7cf0" stroke="#2a2a2a" stroke-width="0.9"/>
<circle cx="851" cy="465.7" r="3.15" fill="#4a7cf0" stroke="#2a2a2a" stroke-width="0.9"/>
<circle cx="850" cy="465" r="3.15" fill="#4a7cf0" stroke="#2a2a2a" stroke-width="0.9"/>
<circle cx="851.9" cy="293.7" r="3.15" fill="#d0565a" stroke="#2a2a2a" stroke-width="0.9"/>
<text x="859.5" y="298" font-size="11.7" >AD</text>
<circle cx="851.9" cy="306.1" r="3.15" fill="#4a7cf0" stroke="#2a2a2a" stroke-width="0.9"/>
<text x="859.5" y="310.3" font-size="11.7" >Control</text>
</g>
</svg></body></html>
